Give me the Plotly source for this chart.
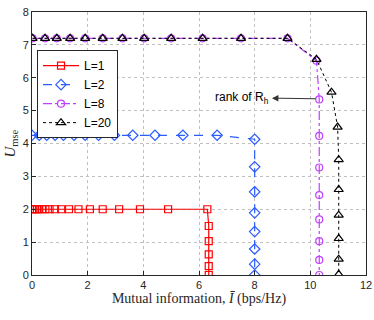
import plotly.graph_objects as go

# L=1 (red squares)
x_l1 = [0, 0.05, 0.11, 0.18, 0.26, 0.36, 0.48, 0.63, 0.82, 1.05, 1.33, 1.67, 2.08, 2.54, 3.13, 3.88, 4.89, 6.30,
        6.35, 6.35, 6.35, 6.35, 6.35]
y_l1 = [2]*18 + [1.49, 1.03, 0.63, 0.27, 0]

# L=2 (blue diamonds)
x_l2 = [0, 0.26, 0.53, 0.83, 1.13, 1.51, 1.91, 2.39, 2.96, 3.62, 4.42, 5.42, 6.65, 8.0,
        8.0, 8.0, 8.0, 8.0, 8.0, 8.0, 8.0]
y_l2 = [4.25]*13 + [4.13, 3.29, 2.53, 1.89, 1.32, 0.79, 0.33, 0]

# L=8 (purple circles)
x_top = [0.02, 0.47, 0.89, 1.37, 1.91, 2.54, 3.25, 4.03, 5.0, 6.13, 7.51, 9.18]
x_l8 = x_top + [10.22] + [10.32]*8
y_l8 = [7.2]*12 + [6.52, 5.34, 4.23, 3.27, 2.43, 1.69, 1.03, 0.46, 0]

# L=20 (black triangles)
x_l20 = x_top + [10.22, 10.76, 10.98] + [11.02]*7
y_l20 = [7.2]*12 + [6.56, 5.56, 4.5, 3.51, 2.6, 1.82, 1.11, 0.48, 0.02]

x_ticks = [0, 2, 4, 6, 8, 10, 12]
y_ticks = [0, 1, 2, 3, 4, 5, 6, 7, 8]

fig = go.Figure()

fig.add_trace(go.Scatter(x=x_l1, y=y_l1, name='L=1', mode='lines+markers',
                         line=dict(color='#ff0000', width=1.2, dash='solid'),
                         marker=dict(symbol='square-open', size=7, color='#ff0000', line=dict(width=1.2))))
fig.add_trace(go.Scatter(x=x_l2, y=y_l2, name='L=2', mode='lines+markers',
                         line=dict(color='#2a5cff', width=1.2, dash='dash'),
                         marker=dict(symbol='diamond-open', size=8, color='#2a5cff', line=dict(width=1.2))))
fig.add_trace(go.Scatter(x=x_l8, y=y_l8, name='L=8', mode='lines+markers',
                         line=dict(color='#bf40ff', width=1.2, dash='dashdot'),
                         marker=dict(symbol='circle-open', size=7, color='#bf40ff', line=dict(width=1.2))))
fig.add_trace(go.Scatter(x=x_l20, y=y_l20, name='L=20', mode='lines+markers',
                         line=dict(color='#000000', width=1, dash='dot'),
                         marker=dict(symbol='triangle-up-open', size=8, color='#000000', line=dict(width=1.2))))

# arrow pointing left from the circle
fig.add_annotation(x=8.62, y=5.38, ax=10.25, ay=5.36, axref='x', ayref='y', xref='x', yref='y',
                   text='', showarrow=True, arrowhead=2, arrowsize=1.3, arrowwidth=1, arrowcolor='#333333')
fig.add_annotation(x=8.58, y=5.38, xref='x', yref='y', xanchor='right', yanchor='middle',
                   text='rank of R<sub>h</sub>', showarrow=False,
                   font=dict(family='Liberation Sans', size=12, color='#000000'))

# y axis title placed by hand
fig.add_annotation(x=0, y=0.5, xref='paper', yref='paper', xanchor='center', yanchor='middle',
                   xshift=-22, textangle=-90, showarrow=False,
                   text='<i>U</i><sub>mse</sub>',
                   font=dict(family='Liberation Serif', size=15, color='#262626'))

axis_common = dict(showline=True, linecolor='#262626', linewidth=1, mirror=True,
                   ticks='inside', ticklen=4, tickcolor='#262626',
                   showgrid=True, gridcolor='#c0c0c0', griddash='dot', gridwidth=1,
                   zeroline=False, automargin=False,
                   tickfont=dict(family='Liberation Sans', size=11, color='#262626'))

fig.update_layout(
    width=374, height=320,
    margin=dict(l=32, r=8, t=12, b=45),
    paper_bgcolor='white', plot_bgcolor='white',
    xaxis=dict(range=[0, 12], tickvals=x_ticks,
               title=dict(text='Mutual information, <i>Ī</i> (bps/Hz)', standoff=2,
                          font=dict(family='Liberation Serif', size=14, color='#262626')),
               **axis_common),
    yaxis=dict(range=[0, 8], tickvals=y_ticks, **axis_common),
    legend=dict(x=0.015, y=0.855, xanchor='left', yanchor='top',
                bgcolor='white', bordercolor='#262626', borderwidth=1,
                font=dict(family='Liberation Sans', size=12, color='#000000'),
                tracegroupgap=0, itemwidth=36),
    showlegend=True,
)

# drop the default 8px body margin so the figure sits at the page corner
fig.write_html("out.html", config={'displayModeBar': False},
               post_script="document.body.style.margin='0';")
